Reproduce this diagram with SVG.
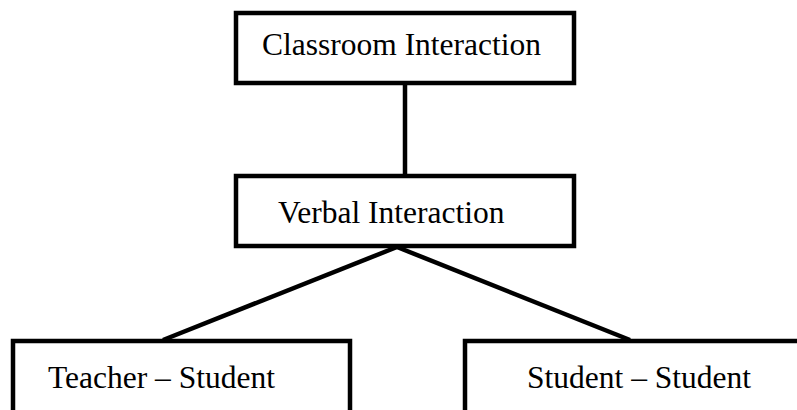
<svg xmlns="http://www.w3.org/2000/svg" width="797" height="410" viewBox="0 0 797 410">
<style>
.box{fill:#fff;stroke:#000;stroke-width:4.5}
.lbl{font-family:"Liberation Serif","Times New Roman",serif;font-size:31.5px;fill:#000}
.con{stroke:#000;stroke-width:4.5;fill:none}
</style>
<rect width="797" height="410" fill="#fff"/>
<g id="connectors">
<line class="con" x1="405" y1="83" x2="405" y2="175"/>
<line class="con" x1="397" y1="247" x2="163" y2="340"/>
<line class="con" x1="397" y1="247" x2="630" y2="340"/>
</g>
<g id="classroom">
<rect class="box" x="236" y="13" width="338" height="70"/>
<text class="lbl" x="262" y="55">Classroom Interaction</text>
</g>
<g id="verbal">
<rect class="box" x="236" y="176" width="338" height="70"/>
<text class="lbl" x="278" y="223">Verbal Interaction</text>
</g>
<g id="teacher-student">
<rect class="box" x="13" y="341" width="337" height="90"/>
<text class="lbl" x="48" y="388">Teacher – Student</text>
</g>
<g id="student-student">
<rect class="box" x="465" y="341" width="360" height="90"/>
<text class="lbl" x="527" y="388">Student – Student</text>
</g>
</svg>
